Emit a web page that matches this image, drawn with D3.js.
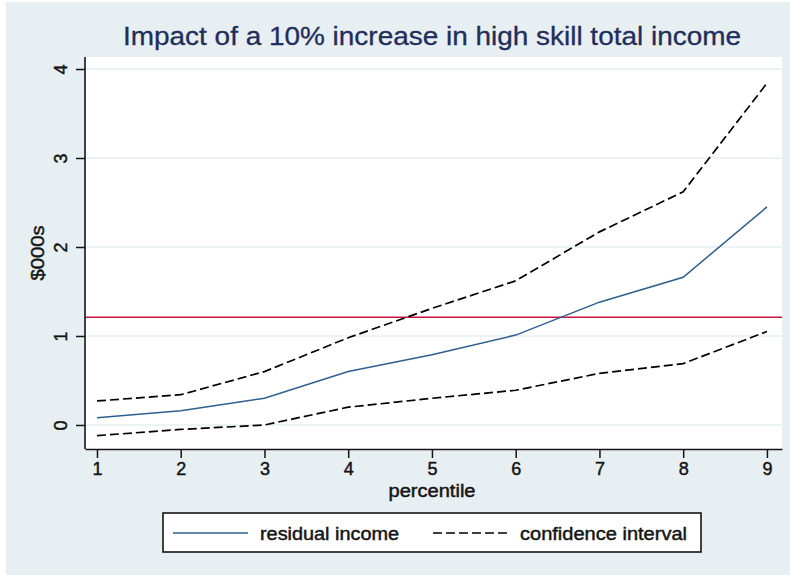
<!DOCTYPE html>
<html>
<head>
<meta charset="utf-8">
<script src="https://cdn.jsdelivr.net/npm/d3@7"></script>
<style>
  html, body { margin: 0; padding: 0; background: #ffffff; }
  svg { display: block; }
  text { font-family: "Liberation Sans", Arial, Helvetica, sans-serif; }
</style>
</head>
<body>
<svg id="chart" width="790" height="575"></svg>
<script>
// ---- data ----
const percentiles = [1, 2, 3, 4, 5, 6, 7, 8, 9];
const residualIncome = [0.08, 0.16, 0.30, 0.60, 0.79, 1.01, 1.38, 1.66, 2.45];
const ciUpper = [0.27, 0.34, 0.60, 0.98, 1.31, 1.62, 2.17, 2.62, 3.84];
const ciLower = [-0.12, -0.05, 0.00, 0.20, 0.30, 0.39, 0.58, 0.69, 1.05];
const referenceLevel = 1.21;
const xTicks = [1, 2, 3, 4, 5, 6, 7, 8, 9];
const yTicks = [0, 1, 2, 3, 4];
const titleText = "Impact of a 10% increase in high skill total income";
const xTitle = "percentile";
const yTitle = "$000s";
const legendLabels = ["residual income", "confidence interval"];

// ---- layout ----
const W = 790, H = 575;
const plot = { left: 85, right: 782, top: 57, bottom: 449 };
const svg = d3.select("#chart");
const ink = "#141414";

// outer background
svg.append("rect").attr("x", 6).attr("y", 2).attr("width", W - 6).attr("height", H - 2)
  .attr("fill", "#e8eff2");
// plot region
svg.append("rect").attr("x", plot.left).attr("y", plot.top)
  .attr("width", plot.right - plot.left).attr("height", plot.bottom - plot.top)
  .attr("fill", "#ffffff");

const x = d3.scaleLinear().domain([0.857, 9.18]).range([plot.left, plot.right]);
const y = d3.scaleLinear().domain([-0.27, 4.135]).range([plot.bottom, plot.top]);

// gridlines
svg.append("g").selectAll("line").data(yTicks).join("line")
  .attr("x1", plot.left).attr("x2", plot.right)
  .attr("y1", d => y(d)).attr("y2", d => y(d))
  .attr("stroke", "#e6eff1").attr("stroke-width", 1.6);

// reference line
svg.append("line")
  .attr("x1", plot.left).attr("x2", plot.right)
  .attr("y1", y(referenceLevel)).attr("y2", y(referenceLevel))
  .attr("stroke", "#c8173e").attr("stroke-width", 1.5);

const line = arr => d3.line().x((d, i) => x(percentiles[i])).y(d => y(d))(arr);

svg.append("path").attr("d", line(ciUpper)).attr("fill", "none")
  .attr("stroke", "#000").attr("stroke-width", 1.7).attr("stroke-dasharray", "9,4");
svg.append("path").attr("d", line(ciLower)).attr("fill", "none")
  .attr("stroke", "#000").attr("stroke-width", 1.7).attr("stroke-dasharray", "9,4");
svg.append("path").attr("d", line(residualIncome)).attr("fill", "none")
  .attr("stroke", "#2f5f8c").attr("stroke-width", 1.5);

function heavy(sel, color) {
  sel.attr("fill", color).attr("stroke", color).attr("stroke-width", 0.45)
    .attr("paint-order", "stroke");
}

// axes
const xAxis = d3.axisBottom(x).tickValues(xTicks).tickFormat(d3.format("d"))
  .tickSize(9).tickPadding(4).tickSizeOuter(0);
const gx = svg.append("g").attr("transform", `translate(0,${plot.bottom})`).call(xAxis);
gx.select(".domain").attr("stroke", ink).attr("stroke-width", 1.6);
gx.selectAll(".tick line").attr("stroke", ink).attr("stroke-width", 1.5);
gx.selectAll(".tick text").attr("font-size", 18)
  .attr("font-family", "Liberation Sans, Arial, sans-serif").call(heavy, ink);

const yAxis = d3.axisLeft(y).tickValues(yTicks).tickFormat(d3.format("d"))
  .tickSize(9).tickPadding(0).tickSizeOuter(0);
const gy = svg.append("g").attr("transform", `translate(${plot.left},0)`).call(yAxis);
gy.select(".domain").attr("stroke", ink).attr("stroke-width", 1.6)
  .attr("d", `M0,${plot.bottom}V${plot.top}`);
gy.selectAll(".tick line").attr("stroke", ink).attr("stroke-width", 1.5);
gy.selectAll(".tick text")
  .attr("font-size", 18)
  .attr("font-family", "Liberation Sans, Arial, sans-serif")
  .attr("x", null).attr("dy", null)
  .attr("text-anchor", "middle")
  .attr("transform", "translate(-18,0) rotate(-90)")
  .call(heavy, ink);

// title
svg.append("text").attr("x", 432).attr("y", 45).attr("text-anchor", "middle")
  .attr("font-size", 25).attr("fill", "#1f2e5a")
  .attr("stroke", "#1f2e5a").attr("stroke-width", 0.3)
  .attr("textLength", 618).attr("lengthAdjust", "spacingAndGlyphs")
  .text(titleText);

// axis titles
svg.append("text").attr("x", 432).attr("y", 497).attr("text-anchor", "middle")
  .attr("font-size", 18)
  .attr("textLength", 87).attr("lengthAdjust", "spacingAndGlyphs")
  .text(xTitle).call(heavy, ink);
svg.append("text").attr("transform", `translate(44,${(plot.top + plot.bottom) / 2}) rotate(-90)`)
  .attr("text-anchor", "middle").attr("font-size", 19)
  .attr("textLength", 55).attr("lengthAdjust", "spacingAndGlyphs")
  .text(yTitle).call(heavy, ink);

// legend
const lg = svg.append("g");
lg.append("rect").attr("x", 163).attr("y", 513).attr("width", 538).attr("height", 39)
  .attr("fill", "#fff").attr("stroke", ink).attr("stroke-width", 1.6);
lg.append("line").attr("x1", 173).attr("x2", 248).attr("y1", 533).attr("y2", 533)
  .attr("stroke", "#2f5f8c").attr("stroke-width", 1.5);
lg.append("text").attr("x", 260).attr("y", 540).attr("font-size", 18)
  .attr("textLength", 139).attr("lengthAdjust", "spacingAndGlyphs")
  .text(legendLabels[0]).call(heavy, ink);
lg.append("line").attr("x1", 433).attr("x2", 508).attr("y1", 533).attr("y2", 533)
  .attr("stroke", "#000").attr("stroke-width", 1.7).attr("stroke-dasharray", "9,4");
lg.append("text").attr("x", 520).attr("y", 540).attr("font-size", 18)
  .attr("textLength", 167).attr("lengthAdjust", "spacingAndGlyphs")
  .text(legendLabels[1]).call(heavy, ink);
</script>
</body>
</html>
